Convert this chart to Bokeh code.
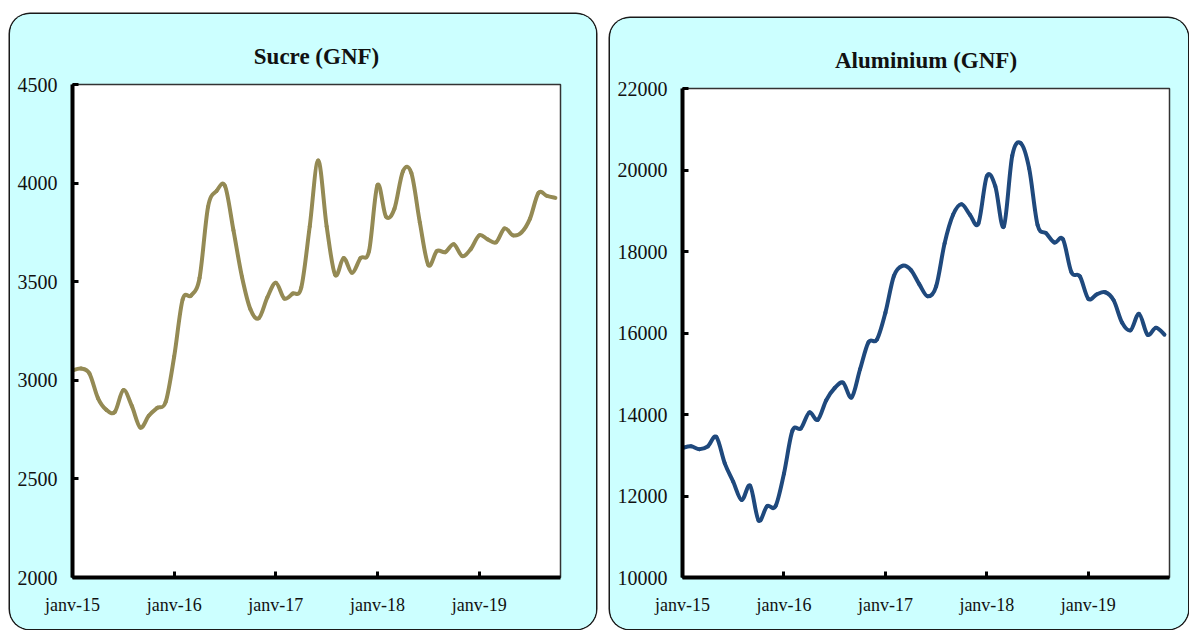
from bokeh.plotting import figure
from bokeh.layouts import row
from bokeh.models import FixedTicker, Range1d
from bokeh.embed import file_html
from bokeh.resources import INLINE

# ---------------- data ----------------
months = list(range(58))  # janv-15 .. oct-19
x_tick_pos = [0, 12, 24, 36, 48]
x_tick_labels = ["janv-15", "janv-16", "janv-17", "janv-18", "janv-19"]

sucre = [3050, 3060, 3035, 2910, 2850, 2840, 2950, 2870, 2760, 2820,
         2860, 2890, 3120, 3410, 3430, 3520, 3880, 3960, 3985, 3760,
         3525, 3360, 3315, 3420, 3495, 3415, 3440, 3470, 3780, 4115,
         3780, 3535, 3620, 3545, 3620, 3655, 3990, 3830, 3870, 4060,
         4050, 3800, 3585, 3655, 3650, 3690, 3630, 3665, 3735, 3715,
         3700, 3770, 3735, 3750, 3820, 3950, 3935, 3925]
sucre_ticks = [2000, 2500, 3000, 3500, 4000, 4500]

aluminium = [13180, 13220, 13150, 13220, 13450, 12800, 12350, 11900, 12250, 11400,
             11750, 11750, 12550, 13600, 13660, 14050, 13870, 14350, 14650, 14780,
             14420, 15110, 15775, 15840, 16500, 17400, 17650, 17550, 17200, 16900,
             17145, 18200, 18900, 19160, 18900, 18690, 19850, 19600, 18610, 20350,
             20660, 20040, 18650, 18450, 18220, 18300, 17490, 17390, 16840, 16950,
             17000, 16800, 16250, 16070, 16470, 15960, 16130, 15960]
alu_ticks = [10000, 12000, 14000, 16000, 18000, 20000, 22000]

PANEL_BG = "#ccffff"
FONT = "Liberation Serif"


def smooth_segments(xs, ys):
    """Catmull-Rom style cubic Bezier segments through the data points."""
    n = len(xs)
    x0, y0, x1, y1, cx0, cy0, cx1, cy1 = [], [], [], [], [], [], [], []
    for i in range(n - 1):
        im1 = max(i - 1, 0)
        ip2 = min(i + 2, n - 1)
        x0.append(xs[i]); y0.append(ys[i])
        x1.append(xs[i + 1]); y1.append(ys[i + 1])
        cx0.append(xs[i] + (xs[i + 1] - xs[im1]) / 6.0)
        cy0.append(ys[i] + (ys[i + 1] - ys[im1]) / 6.0)
        cx1.append(xs[i + 1] - (xs[ip2] - xs[i]) / 6.0)
        cy1.append(ys[i + 1] - (ys[ip2] - ys[i]) / 6.0)
    return dict(x0=x0, y0=y0, x1=x1, y1=y1, cx0=cx0, cy0=cy0, cx1=cx1, cy1=cy1)


def make_panel(title, values, yticks, color, width, height, borders, margin):
    p = figure(width=width, height=height, output_backend="svg",
               toolbar_location=None,
               x_range=Range1d(0, 57.6),
               y_range=Range1d(yticks[0], yticks[-1]),
               min_border_left=borders[0], min_border_right=borders[1],
               min_border_top=borders[2], min_border_bottom=borders[3],
               margin=margin)
    p.styles = {"border-radius": "20px", "overflow": "hidden",
                "box-shadow": "0 0 0 1.5px #1a1a1a",
                "background-color": PANEL_BG}
    p.title.text = title
    p.title.align = "center"
    p.title.text_font = FONT
    p.title.text_font_style = "bold"
    p.title.text_font_size = "23px"
    p.title.text_color = "#111111"
    p.title.standoff = 32

    p.border_fill_color = PANEL_BG
    p.background_fill_color = "white"
    p.outline_line_color = "#333333"
    p.outline_line_width = 1.5
    p.xgrid.visible = False
    p.ygrid.visible = False

    seg = smooth_segments(months, values)
    p.bezier(x0="x0", y0="y0", x1="x1", y1="y1", cx0="cx0", cy0="cy0",
             cx1="cx1", cy1="cy1", source=seg, line_color=color,
             line_width=4, line_cap="round")

    xa = p.xaxis[0]
    xa.ticker = FixedTicker(ticks=x_tick_pos)
    xa.major_label_overrides = {t: l for t, l in zip(x_tick_pos, x_tick_labels)}
    ya = p.yaxis[0]
    ya.ticker = FixedTicker(ticks=yticks)
    for ax in (xa, ya):
        ax.axis_line_color = "black"
        ax.axis_line_width = 4
        ax.major_tick_in = 6
        ax.major_tick_out = 0
        ax.major_tick_line_width = 3
        ax.major_tick_line_color = "black"
        ax.minor_tick_line_color = None
        ax.major_label_text_font = FONT
        ax.major_label_text_color = "#111111"
    xa.major_label_text_font_size = "18px"
    xa.major_label_standoff = 17
    ya.major_label_text_font_size = "20px"
    ya.major_label_standoff = 15
    return p


p1 = make_panel("Sucre (GNF)", sucre, sucre_ticks, "#948a54",
                width=586, height=615, borders=(62, 36, 70, 52),
                margin=(14, 0, 0, 10))
p2 = make_panel("Aluminium (GNF)", aluminium, alu_ticks, "#1f497d",
                width=578, height=611, borders=(72, 19, 70, 50),
                margin=(18, 0, 0, 14))

p = row(p1, p2)
open("out.html", "w").write(file_html(p, INLINE))
